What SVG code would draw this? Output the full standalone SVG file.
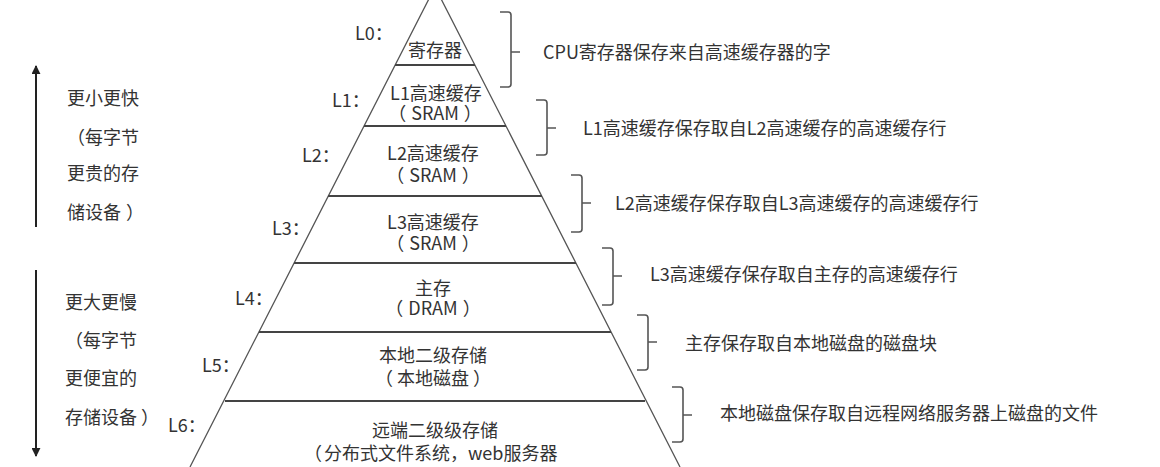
<svg xmlns="http://www.w3.org/2000/svg" width="1160" height="467" viewBox="0 0 1160 467">
  <defs>
    <style>
      text { font-family: "Noto Sans CJK SC", "Noto Sans", sans-serif; font-size: 18px; fill: #333; }
      .mid { text-anchor: middle; }
      .side { fill: none; stroke: #555; stroke-width: 1.3; }
      .tier { fill: none; stroke: #444; stroke-width: 2; }
      .brace { fill: none; stroke: #555; stroke-width: 1.6; stroke-linejoin: round; }
      .axis { fill: none; stroke: #222; stroke-width: 2; }
    </style>
    <marker id="head" viewBox="0 0 10 10" refX="9" refY="5" markerWidth="4.5" markerHeight="4.5" orient="auto">
      <path d="M0,0 L10,5 L0,10 Z" fill="#222"/>
    </marker>
  </defs>

  <rect width="1160" height="467" fill="#fff"/>

  <!-- pyramid outline -->
  <g id="pyramid">
    <path class="side" d="M435,-13 L190,467 M435,-13 L680,467"/>
  </g>

  <!-- tier levels -->
  <g id="level-L0">
    <text x="355" y="39.5">L0：</text>
    <text class="mid" x="435" y="56.5">寄存器</text>
    <line class="tier" x1="395" y1="65" x2="475" y2="65"/>
  </g>
  <g id="level-L1">
    <text x="332" y="106.5">L1：</text>
    <text class="mid" x="436" y="99.5">L1高速缓存</text>
    <text class="mid" x="435" y="119.5">（<tspan dx="5">SRAM</tspan><tspan dx="5">）</tspan></text>
    <line class="tier" x1="364" y1="126" x2="506" y2="126"/>
  </g>
  <g id="level-L2">
    <text x="302" y="161.5">L2：</text>
    <text class="mid" x="433" y="159.5">L2高速缓存</text>
    <text class="mid" x="433" y="181.5">（<tspan dx="5">SRAM</tspan><tspan dx="5">）</tspan></text>
    <line class="tier" x1="328" y1="196" x2="542" y2="196"/>
  </g>
  <g id="level-L3">
    <text x="272" y="234.5">L3：</text>
    <text class="mid" x="433" y="228.5">L3高速缓存</text>
    <text class="mid" x="433" y="249.5">（<tspan dx="5">SRAM</tspan><tspan dx="5">）</tspan></text>
    <line class="tier" x1="294" y1="263" x2="576" y2="263"/>
  </g>
  <g id="level-L4">
    <text x="235" y="304.5">L4：</text>
    <text class="mid" x="433" y="294.5">主存</text>
    <text class="mid" x="433" y="314.5">（<tspan dx="5">DRAM</tspan><tspan dx="5">）</tspan></text>
    <line class="tier" x1="259" y1="332" x2="611" y2="332"/>
  </g>
  <g id="level-L5">
    <text x="202" y="371.5">L5：</text>
    <text class="mid" x="433" y="361.5">本地二级存储</text>
    <text class="mid" x="433" y="384.5">（<tspan dx="4">本地磁盘</tspan><tspan dx="4">）</tspan></text>
    <line class="tier" x1="225" y1="401" x2="645" y2="401"/>
  </g>
  <g id="level-L6">
    <text x="168" y="431.5">L6：</text>
    <text class="mid" x="435" y="436.5">远端二级级存储</text>
    <text x="304" y="459.5">（<tspan dx="2">分布式文件系统，web服务器</tspan></text>
  </g>

  <!-- braces and the two direction arrows -->
  <g id="connectors">
    <path class="brace" d="M500,12 H508 Q511,12 511,15 V84 Q511,87 508,87 H500 M511,52 H520"/>
    <path class="brace" d="M536,100 H544 Q547,100 547,103 V152 Q547,155 544,155 H536 M547,128 H556"/>
    <path class="brace" d="M571,175 H579 Q582,175 582,178 V229 Q582,232 579,232 H571 M582,203 H591"/>
    <path class="brace" d="M602,248 H610 Q613,248 613,251 V302 Q613,305 610,305 H602 M613,276 H622"/>
    <path class="brace" d="M637,315 H645 Q648,315 648,318 V367 Q648,370 645,370 H637 M648,342 H657"/>
    <path class="brace" d="M672,387 H680 Q683,387 683,390 V439 Q683,442 680,442 H672 M683,415 H692"/>
    <line class="axis" x1="36" y1="227" x2="36" y2="66" marker-end="url(#head)"/>
    <line class="axis" x1="36" y1="270" x2="36" y2="456" marker-end="url(#head)"/>
  </g>

  <g id="notes">
    <text x="543" y="58.5">CPU寄存器保存来自高速缓存器的字</text>
    <text x="583" y="134.5">L1高速缓存保存取自L2高速缓存的高速缓存行</text>
    <text x="615" y="209.5">L2高速缓存保存取自L3高速缓存的高速缓存行</text>
    <text x="650" y="280.5">L3高速缓存保存取自主存的高速缓存行</text>
    <text x="685" y="349.5">主存保存取自本地磁盘的磁盘块</text>
    <text x="720" y="419.5">本地磁盘保存取自远程网络服务器上磁盘的文件</text>
  </g>

  <!-- side captions -->
  <g id="caption-fast">
    <text x="67" y="104.5">更小更快</text>
    <text x="67" y="143.5">（每字节</text>
    <text x="67" y="179.5">更贵的存</text>
    <text x="67" y="218.5">储设备<tspan dx="5">）</tspan></text>
  </g>
  <g id="caption-slow">
    <text x="65" y="308.5">更大更慢</text>
    <text x="65" y="346.5">（每字节</text>
    <text x="65" y="384.5">更便宜的</text>
    <text x="65" y="423.5">存储设备<tspan dx="4">）</tspan></text>
  </g>
</svg>
